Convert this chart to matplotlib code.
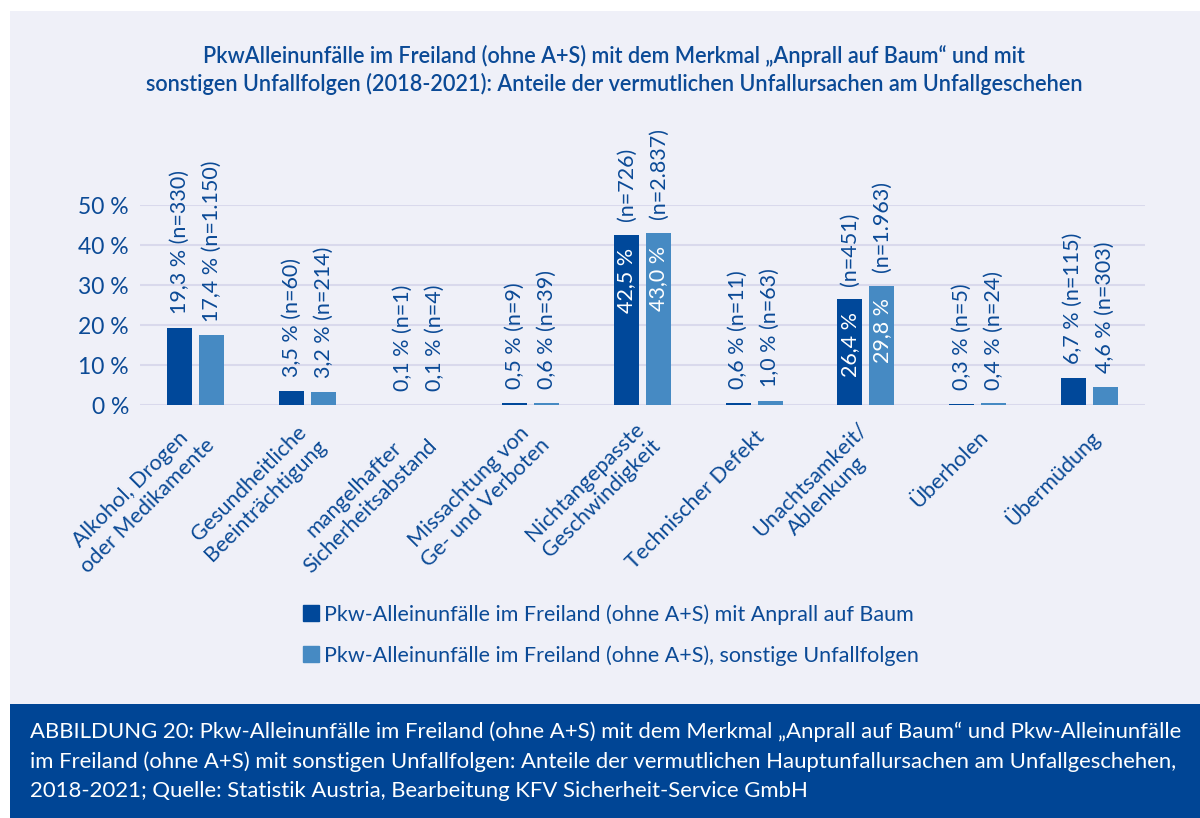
import matplotlib
matplotlib.use('Agg')
import matplotlib.pyplot as plt
import matplotlib.patches as patches
import matplotlib.transforms as mtransforms
from matplotlib.lines import Line2D
import numpy as np

plt.rcParams['font.family'] = ['Lato', 'DejaVu Sans']

# data
categories = ["Alkohol, Drogen\noder Medikamente", "Gesundheitliche\nBeeinträchtigung",
              "mangelhafter\nSicherheitsabstand", "Missachtung von\nGe- und Verboten",
              "Nichtangepasste\nGeschwindigkeit", "Technischer Defekt",
              "Unachtsamkeit/\nAblenkung", "Überholen", "Übermüdung"]
baum_pct = [19.3, 3.5, 0.1, 0.5, 42.5, 0.6, 26.4, 0.3, 6.7]
baum_n = ["330", "60", "1", "9", "726", "11", "451", "5", "115"]
sonst_pct = [17.4, 3.2, 0.1, 0.6, 43.0, 1.0, 29.8, 0.4, 4.6]
sonst_n = ["1.150", "214", "4", "39", "2.837", "63", "1.963", "24", "303"]
yticks = [0, 10, 20, 30, 40, 50]
series_names = ["Pkw-Alleinunfälle im Freiland (ohne A+S) mit Anprall auf Baum",
                "Pkw-Alleinunfälle im Freiland (ohne A+S), sonstige Unfallfolgen"]

DARK = '#00489a'
LIGHT = '#468ac3'
TXT = '#0b4a96'
PANEL = '#eff0f8'
GRID = '#d9d9ec'

W, H = 1200, 818
fig = plt.figure(figsize=(W / 100, H / 100), dpi=100)
fig.patch.set_facecolor('white')

# panel + caption band
fig.add_artist(patches.Rectangle((10 / W, (H - 704) / H), 1, (704 - 11) / H,
                                 transform=fig.transFigure, facecolor=PANEL, edgecolor='none', zorder=0))
fig.add_artist(patches.Rectangle((10 / W, 0), 1, (H - 704) / H,
                                 transform=fig.transFigure, facecolor='#004595', edgecolor='none', zorder=0))

fig.text(614 / W, 1 - 70 / H,
         "PkwAlleinunfälle im Freiland (ohne A+S) mit dem Merkmal „Anprall auf Baum“ und mit\n"
         "sonstigen Unfallfolgen (2018-2021): Anteile der vermutlichen Unfallursachen am Unfallgeschehen",
         ha='center', va='center', fontsize=15.6, color=TXT, fontweight='semibold', linespacing=1.3)

ax = fig.add_axes([140 / W, (H - 405) / H, 1005 / W, 200 / H])
ax.set_facecolor('none')
x = np.arange(len(categories))
bw = 0.225
off = 0.143
ax.bar(x - off, baum_pct, bw, color=DARK, zorder=3)
ax.bar(x + off, sonst_pct, bw, color=LIGHT, zorder=3)
ax.set_xlim(-0.5, len(categories) - 0.5)
ax.set_ylim(0, 50)
ax.set_yticks(yticks)
ax.set_yticklabels([f"{t} %" for t in yticks])
ax.yaxis.grid(True, color=GRID, linewidth=1.5, zorder=0)
ax.set_axisbelow(True)
for s in ax.spines.values():
    s.set_visible(False)
ax.tick_params(axis='y', length=0, pad=8, labelsize=16.5, labelcolor=TXT)
ax.tick_params(axis='x', length=0, pad=21, labelsize=15.6, labelcolor=TXT)
ax.set_xticks(x)
ax.set_xticklabels(categories)
shift = mtransforms.ScaledTranslation(5 / 72, 0, fig.dpi_scale_trans)
for lab in ax.get_xticklabels():
    lab.set_rotation(45)
    lab.set_ha('right')
    lab.set_va('center')
    lab.set_rotation_mode('anchor')
    lab.set_multialignment('center')
    lab.set_linespacing(1.2)
    lab.set_transform(lab.get_transform() + shift)


def fmt(v):
    return f"{v:.1f}".replace('.', ',') + " %"


def label_bars(xs, vals, ns):
    for xi, v, n in zip(xs, vals, ns):
        if v > 20:
            ax.annotate(fmt(v), (xi, v), xytext=(0, -9), textcoords='offset points',
                        rotation=90, ha='center', va='top', fontsize=15.5, color='white', zorder=4)
            ax.annotate(f"(n={n})", (xi, v), xytext=(0, 10), textcoords='offset points',
                        rotation=90, ha='center', va='bottom', fontsize=15.5, color=TXT,
                        annotation_clip=False)
        else:
            ax.annotate(f"{fmt(v)} (n={n})", (xi, v), xytext=(0, 10), textcoords='offset points',
                        rotation=90, ha='center', va='bottom', fontsize=15.5, color=TXT,
                        annotation_clip=False)


label_bars(x - off, baum_pct, baum_n)
label_bars(x + off, sonst_pct, sonst_n)

# legend
handles = [Line2D([], [], marker='s', linestyle='none', markersize=11.5, color=c) for c in (DARK, LIGHT)]
fig.legend(handles, series_names, loc='center left', bbox_to_anchor=(292 / W, 1 - 635 / H),
           frameon=False, fontsize=15.5, labelcolor=TXT, handlelength=0.8, handletextpad=0.2,
           labelspacing=0.95, borderpad=0)

fig.text(30 / W, 1 - 761 / H,
         "ABBILDUNG 20: Pkw-Alleinunfälle im Freiland (ohne A+S) mit dem Merkmal „Anprall auf Baum“ und Pkw-Alleinunfälle\n"
         "im Freiland (ohne A+S) mit sonstigen Unfallfolgen: Anteile der vermutlichen Hauptunfallursachen am Unfallgeschehen,\n"
         "2018-2021; Quelle: Statistik Austria, Bearbeitung KFV Sicherheit-Service GmbH",
         ha='left', va='center', fontsize=15.9, color='white', linespacing=1.55)

fig.savefig('out.png', dpi=100)
